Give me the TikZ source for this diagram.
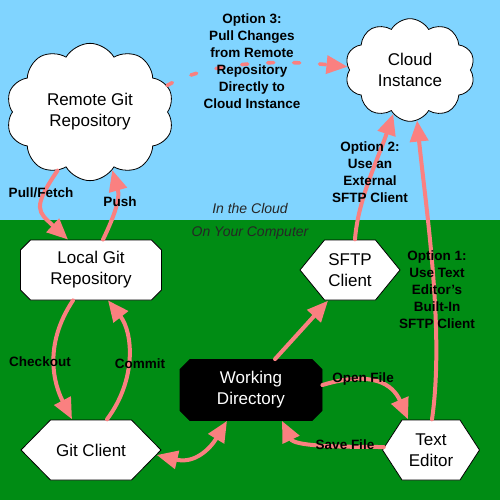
\documentclass[tikz,border=0pt]{standalone}
\usepackage{fontspec}
\setmainfont{Liberation Sans}
\usetikzlibrary{shapes.misc,shapes.symbols,arrows.meta}
\definecolor{skyc}{RGB}{128,212,255}
\definecolor{grassc}{RGB}{0,140,20}
\definecolor{salmonc}{RGB}{250,128,128}
\begin{document}
\begin{tikzpicture}[x=1pt,y=-1pt,
  base/.style={draw=black, line width=0.8pt, fill=white, inner sep=0pt, align=center,
    font=\fontsize{17}{21}\selectfont},
  cloudnode/.style={base, cloud, cloud puffs=10, cloud puff arc=120},
  octbox/.style={base, chamfered rectangle, chamfered rectangle xsep=5pt,
    chamfered rectangle ysep=5pt},
  hexbox/.style={inner sep=0pt, align=center, font=\fontsize{17}{21}\selectfont,
    minimum height=61pt,
    path picture={\draw[fill=white, line width=0.8pt]
      ([xshift=0.5pt]path picture bounding box.west)
      -- ([shift={(#1,-0.5pt)}]path picture bounding box.north west)
      -- ([shift={(-#1,-0.5pt)}]path picture bounding box.north east)
      -- ([xshift=-0.5pt]path picture bounding box.east)
      -- ([shift={(-#1,0.5pt)}]path picture bounding box.south east)
      -- ([shift={(#1,0.5pt)}]path picture bounding box.south west)
      -- cycle;}},
  conn/.style={draw=salmonc, line width=4pt, line cap=round,
    -{Triangle[length=21pt,width=18pt]}},
  dconn/.style={conn, {Triangle[length=21pt,width=18pt]}-{Triangle[length=21pt,width=18pt]}},
  dashconn/.style={conn, line width=3.6pt, dash pattern=on 6pt off 20pt},
  lbl/.style={font=\bfseries\fontsize{13.5}{17}\selectfont, align=center, inner sep=0pt},
  zone/.style={font=\itshape\fontsize{14}{17}\selectfont, text=black!85, inner sep=0pt}
]
\useasboundingbox (0,0) rectangle (500,500);
\fill[skyc] (0,0) rectangle (500,220);
\fill[grassc] (0,220) rectangle (500,500);

% nodes
\node[cloudnode, minimum width=168pt, minimum height=95pt] (rg) at (90,112) {Remote Git\\Repository};
\node[cloudnode, minimum width=130pt, minimum height=95pt] (ci) at (410,70) {Cloud\\Instance};
\node[octbox, minimum width=141pt, minimum height=60pt] (lg) at (91,270) {Local Git\\Repository};
\node[octbox, minimum width=142pt, minimum height=61pt, fill=black, text=white] (wd) at (251,390) {Working\\Directory};
\node[hexbox=25pt, minimum width=101pt] (sf) at (350,270) {SFTP\\Client};
\node[hexbox=30pt, minimum width=141pt] (gc) at (91,450) {Git Client};
\node[hexbox=20pt, minimum width=98pt] (te) at (431,450) {Text\\Editor};

% connectors
\draw[conn] (rg.241) .. controls +(-26,38) and +(-30,-28) .. ([xshift=-23pt]lg.north);
\draw[conn] ([xshift=12pt]lg.north) .. controls +(12,-25) and +(8,28) .. (rg.291);
\draw[conn] ([xshift=-18pt]lg.south) .. controls +(-30,45) and +(-18,-35) .. ([xshift=-19pt]gc.north);
\draw[conn] ([xshift=16pt]gc.north) .. controls +(30,-40) and +(25,32) .. ([xshift=17pt]lg.south);
\draw[dconn] ([shift={(-5pt,-5pt)}]gc.east) .. controls +(38,9) and +(-17,28) .. ([xshift=-24pt]wd.south);
\draw[conn] ([xshift=24pt]wd.north) -- ([xshift=-22pt]sf.south);
\draw[conn] ([xshift=5pt]sf.north) .. controls +(3,-40) and +(-15,45) .. (ci.249);
\draw[conn] ([xshift=1pt]te.north) .. controls +(13,-90) and +(8,82) .. (ci.278);
\draw[conn] ([yshift=5pt]wd.east) .. controls +(50,-15) and +(-15,-35) .. ([xshift=-23pt]te.north);
\draw[conn] ([shift={(2pt,3pt)}]te.west) .. controls +(-50,0) and +(12,25) .. ([xshift=31pt]wd.south);
\draw[dashconn] (rg.19) .. controls +(50,-28) and +(-50,-5) .. (ci.177);

% labels
\node[lbl] (l3) at (252,61) {Option 3:\\Pull Changes\\from Remote\\Repository\\Directly to\\Cloud Instance};
\node[lbl] (l2) at (370,172) {Option 2:\\Use an\\External\\SFTP Client};
\node[lbl] (l1) at (437,290) {Option 1:\\Use Text\\Editor's\\Built-In\\SFTP Client};
\node[lbl] (lpf) at (41,193) {Pull/Fetch};
\node[lbl] (lpu) at (120,202) {Push};
\node[lbl] (lco) at (40,362) {Checkout};
\node[lbl] (lcm) at (140,364) {Commit};
\node[lbl] (lof) at (363,379) {Open File};
\node[lbl] (lsf) at (345,445) {Save File};
\node[zone] (zc) at (250,208) {In the Cloud};
\node[zone] (zy) at (250,233) {On Your Computer};
\end{tikzpicture}
\end{document}
